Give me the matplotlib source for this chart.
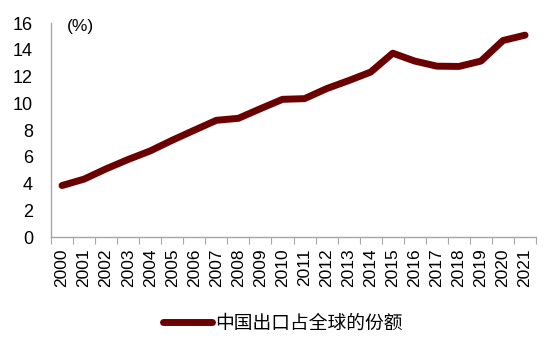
import matplotlib
matplotlib.use("Agg")
import matplotlib.pyplot as plt
import numpy as np

years = [str(y) for y in range(2000, 2022)]
share = [3.85, 4.33, 5.1, 5.8, 6.44, 7.24, 7.99, 8.73, 8.88, 9.6, 10.3, 10.35,
         11.1, 11.7, 12.34, 13.75, 13.16, 12.78, 12.76, 13.16, 14.7, 15.1]
series_label = "中国出口占全球的份额"
yticks = [0, 2, 4, 6, 8, 10, 12, 14, 16]

line_color = "#6b0000"
axis_color = "#a6a6a6"

fig = plt.figure(figsize=(5.5, 3.45), dpi=100)
ax = fig.add_axes([0.0927, 0.313, 0.882, 0.62])

x = np.arange(len(years))
ax.plot(x, share, color=line_color, linewidth=5.0, solid_capstyle="round",
        solid_joinstyle="round", label=series_label)

ax.set_xlim(-0.5, len(years) - 0.5)
ax.set_ylim(0, 16)
ax.set_yticks(yticks)
ax.set_yticklabels([str(v) for v in yticks], family="Liberation Sans", fontsize=13)
ax.tick_params(axis="y", length=0, pad=13)

# category ticks sit between points, labels centered under each point
ax.set_xticks(np.arange(-0.5, len(years)), minor=False)
ax.set_xticklabels([])
ax.set_xticks(x, minor=True)
ax.set_xticklabels(years, minor=True, rotation=90, family="Liberation Sans", fontsize=12.5)
ax.tick_params(axis="x", which="major", length=5, color=axis_color, direction="out")
ax.tick_params(axis="x", which="minor", length=0, pad=8)

for side in ("top", "right"):
    ax.spines[side].set_visible(False)
for side in ("left", "bottom"):
    ax.spines[side].set_color(axis_color)
    ax.spines[side].set_linewidth(1.0)

fig.text(67 / 550, 1 - 27 / 345, "(%)", family="Liberation Sans", fontsize=12.5,
         va="center", ha="left")

leg = fig.legend(loc="center", bbox_to_anchor=(283 / 550, 1 - 323 / 345), frameon=False,
                 prop={"family": ["Noto Sans CJK SC", "DejaVu Sans"], "size": 13.5},
                 handlelength=2.6, handletextpad=0.2)

fig.savefig("out.png", dpi=100)
